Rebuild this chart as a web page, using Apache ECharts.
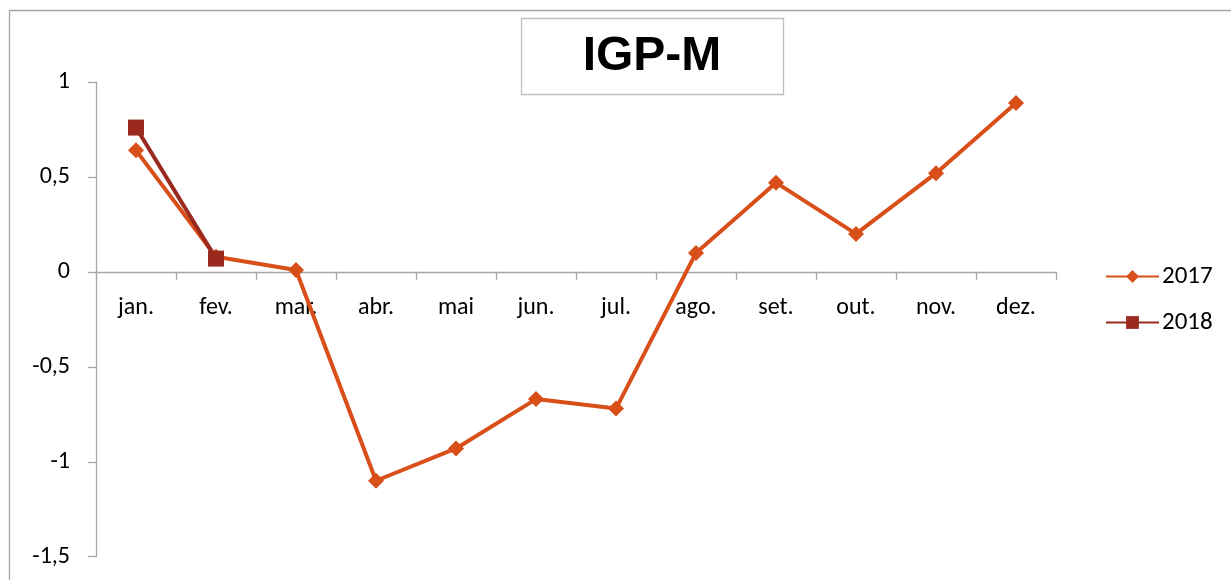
<!DOCTYPE html>
<html>
<head>
<meta charset="utf-8">
<script src="https://cdn.jsdelivr.net/npm/echarts@6/dist/echarts.min.js"></script>
<style>html,body{margin:0;padding:0;background:#fff}#c{width:1231px;height:580px}</style>
</head>
<body>
<div id="c"></div>
<script>
const categories = ['jan.', 'fev.', 'mar.', 'abr.', 'mai', 'jun.', 'jul.', 'ago.', 'set.', 'out.', 'nov.', 'dez.'];
const values2017 = [0.64, 0.08, 0.01, -1.10, -0.93, -0.67, -0.72, 0.10, 0.47, 0.20, 0.52, 0.89];
const values2018 = [0.76, 0.07];
const seriesNames = ['2017', '2018'];
const titleText = 'IGP-M';

const FONT = "Carlito, Calibri, 'Liberation Sans', sans-serif";
const chart = echarts.init(document.getElementById('c'), null, {renderer: 'canvas'});
const GRID_TOP = 82, GRID_BOTTOM = 23.3, H = 580;
const YMIN = -1.5, YMAX = 1;
// distance from grid bottom edge up to the zero line
const zeroOffset = (H - GRID_TOP - GRID_BOTTOM) * (0 - YMIN) / (YMAX - YMIN);
chart.setOption({
  animation: false,
  backgroundColor: '#fff',
  graphic: [
    {type: 'rect', shape: {x: 9.5, y: 10.5, width: 1240, height: 600}, style: {fill: 'none', stroke: '#a6a6a6', lineWidth: 1.3}, silent: true, z: -10},
    {type: 'rect', shape: {x: 521.5, y: 18.5, width: 262, height: 76}, style: {fill: '#fff', stroke: '#bfbfbf', lineWidth: 1.3}, z: 5},
    {type: 'text', x: 652, y: 57, style: {text: titleText, font: "bold 48px 'Liberation Sans', Arial, sans-serif", fill: '#000', align: 'center', verticalAlign: 'middle'}, z: 6}
  ],
  grid: {left: 96, right: 175, top: GRID_TOP, bottom: GRID_BOTTOM, containLabel: false, outerBoundsMode: 'none'},
  legend: {
    orient: 'vertical', left: 1105, top: 264, padding: 0, itemWidth: 53, itemHeight: 16, itemGap: 21,
    textStyle: {fontFamily: FONT, fontSize: 25, color: '#000', padding: [0, 0, 0, -2]},
    data: seriesNames
  },
  xAxis: [{
    type: 'category', data: categories, boundaryGap: true,
    axisLine: {onZero: true, lineStyle: {color: '#a6a6a6', width: 1.3}},
    axisTick: {show: true, length: 8, lineStyle: {color: '#a6a6a6', width: 1.3}},
    axisLabel: {show: false}
  }, {
    type: 'category', data: categories, boundaryGap: true, position: 'bottom',
    offset: -zeroOffset,
    axisLine: {show: false, onZero: false},
    axisTick: {show: false},
    axisLabel: {fontFamily: FONT, fontSize: 24, color: '#000', margin: 24}
  }],
  yAxis: {
    type: 'value', min: YMIN, max: YMAX, interval: 0.5,
    splitLine: {show: false},
    axisLine: {show: true, lineStyle: {color: '#a6a6a6', width: 1.3}},
    axisTick: {show: true, length: 8, lineStyle: {color: '#a6a6a6', width: 1.3}},
    axisLabel: {fontFamily: FONT, fontSize: 24, color: '#000', margin: 26,
      formatter: v => String(v).replace('.', ',')}
  },
  series: [
    {name: seriesNames[0], type: 'line', data: values2017, symbol: 'diamond', symbolSize: 16,
     itemStyle: {color: '#d84f1a'}, lineStyle: {color: '#d84f1a', width: 4}, z: 2},
    {name: seriesNames[1], type: 'line', data: values2018, symbol: 'rect', symbolSize: 16,
     itemStyle: {color: '#9a2a1f'}, lineStyle: {color: '#9a2a1f', width: 4}, z: 3}
  ]
});
</script>
</body>
</html>
